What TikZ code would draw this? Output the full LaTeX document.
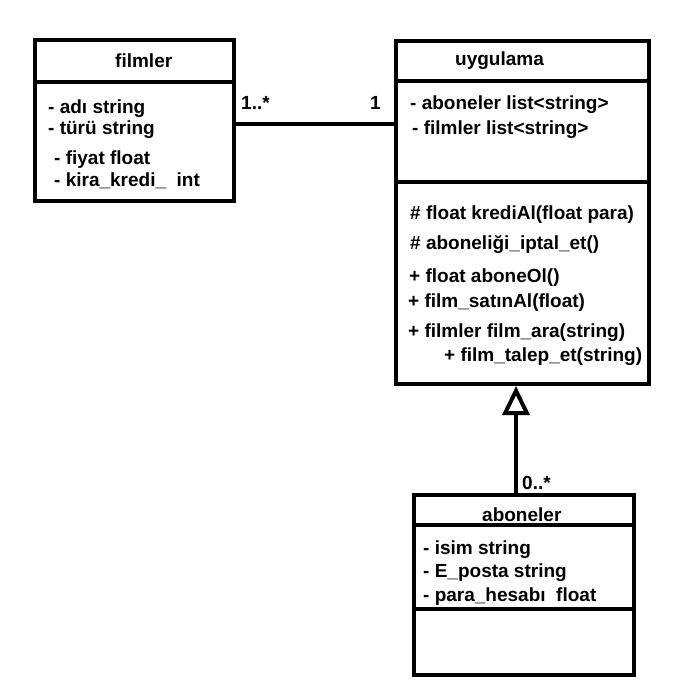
\documentclass[tikz,border=0pt]{standalone}
\usepackage{fontspec}
\setmainfont{Liberation Sans}
\usetikzlibrary{arrows.meta}
\tikzset{
  classbox/.style={draw=black, line width=4pt, fill=white, inner sep=0pt, rectangle},
  sepline/.style={line width=4pt},
  txt/.style={anchor=base west, inner sep=0pt, font=\fontsize{19}{23}\selectfont\bfseries},
  conn/.style={line width=4pt},
  inh/.style={line width=4pt, -{Triangle[open, length=29pt, width=27pt]}}
}
\begin{document}
\begin{tikzpicture}[x=1pt,y=-1pt]
\fill[white] (0,0) rectangle (700,700);
\useasboundingbox (0,0) rectangle (700,700);

% class boxes
\node[classbox, minimum width=199pt, minimum height=161pt] (filmler) at (134.5,120.5) {};
\node[classbox, minimum width=253pt, minimum height=343pt] (uygulama) at (522.5,212.5) {};
\node[classbox, minimum width=220pt, minimum height=180pt] (aboneler) at (524,585) {};

% separators
\draw[sepline] (filmler.west |- 0,82) -- (filmler.east |- 0,82);
\draw[sepline] (uygulama.west |- 0,81) -- (uygulama.east |- 0,81);
\draw[sepline] (uygulama.west |- 0,182) -- (uygulama.east |- 0,182);
\draw[sepline] (aboneler.west |- 0,525) -- (aboneler.east |- 0,525);
\draw[sepline] (aboneler.west |- 0,609) -- (aboneler.east |- 0,609);

% filmler texts
\node[txt] (f0) at (115,68) {filmler};
\node[txt] (f1) at (48,114) {- adı string};
\node[txt] (f2) at (48,135) {- türü string};
\node[txt] (f3) at (54,165) {- fiyat float};
\node[txt] (f4) at (54,187) {- kira\_kredi\_\ \ int};

% uygulama texts
\node[txt] (u0) at (455,66) {uygulama};
\node[txt] (u1) at (410,110) {- aboneler list<string>};
\node[txt] (u2) at (412,135) {- filmler list<string>};
\node[txt] (u3) at (410,220) {\# float krediAl(float para)};
\node[txt] (u4) at (410,250) {\# aboneliği\_iptal\_et()};
\node[txt] (u5) at (409,282) {+ float aboneOl()};
\node[txt] (u6) at (408,307) {+ film\_satınAl(float)};
\node[txt] (u7) at (408,337) {+ filmler film\_ara(string)};
\node[txt] (u8) at (444,361) {+ film\_talep\_et(string)};

% aboneler texts
\node[txt] (a0) at (482,521) {aboneler};
\node[txt] (a1) at (423,554) {- isim string};
\node[txt] (a2) at (423,577) {- E\_posta string};
\node[txt] (a3) at (423,601) {- para\_hesabı\ \ float};

% connectors
\draw[conn] (filmler.east |- 0,124) -- (uygulama.west |- 0,124);
\node[txt] (m1) at (241,110) {1..*};
\node[txt] (m2) at (370,110) {1};
\draw[inh] (516,0 |- aboneler.north) -- (516,0 |- uygulama.south);
\node[txt] (m3) at (522,489) {0..*};
\end{tikzpicture}
\end{document}
